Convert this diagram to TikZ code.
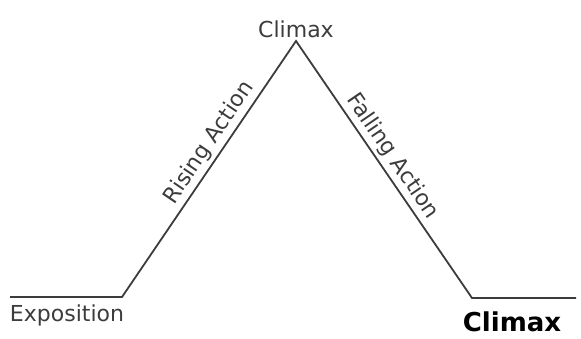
\documentclass[tikz,border=0pt]{standalone}
\usepackage{fontspec}
\setmainfont{DejaVu Sans}
\usepackage{tikz}
\usetikzlibrary{positioning, calc}
\definecolor{plotgray}{HTML}{3C3C3C}

\begin{document}
\begin{tikzpicture}[
  x=1pt,y=1pt,
  font=\fontsize{22}{26}\selectfont,
  plotline/.style={draw=plotgray,line width=1.8pt,line join=miter},
  lbl/.style={text=plotgray,inner sep=2pt},
  sloped lbl/.style={lbl,sloped,above,inner sep=3pt}
]
\useasboundingbox (0,0) rectangle (581,339);

\coordinate (start) at (10,42);
\coordinate (expo) at (122,42);
\coordinate (peak) at (296,298);
\coordinate (resol) at (472,41);
\coordinate (finish) at (576,41);

\draw[plotline] (start) -- (expo)
  -- node[sloped lbl,pos=0.57] (rising) {Rising Action} (peak)
  -- node[sloped lbl,pos=0.48] (falling) {Falling Action} (resol)
  -- (finish);

\node[lbl] (exposition) at (67,24) {Exposition};
\node[lbl,above=1pt of peak] (climax) {Climax};
\node[font=\fontsize{26}{30}\selectfont\bfseries] (climaxbold) at (512,17) {Climax};
\end{tikzpicture}
\end{document}
